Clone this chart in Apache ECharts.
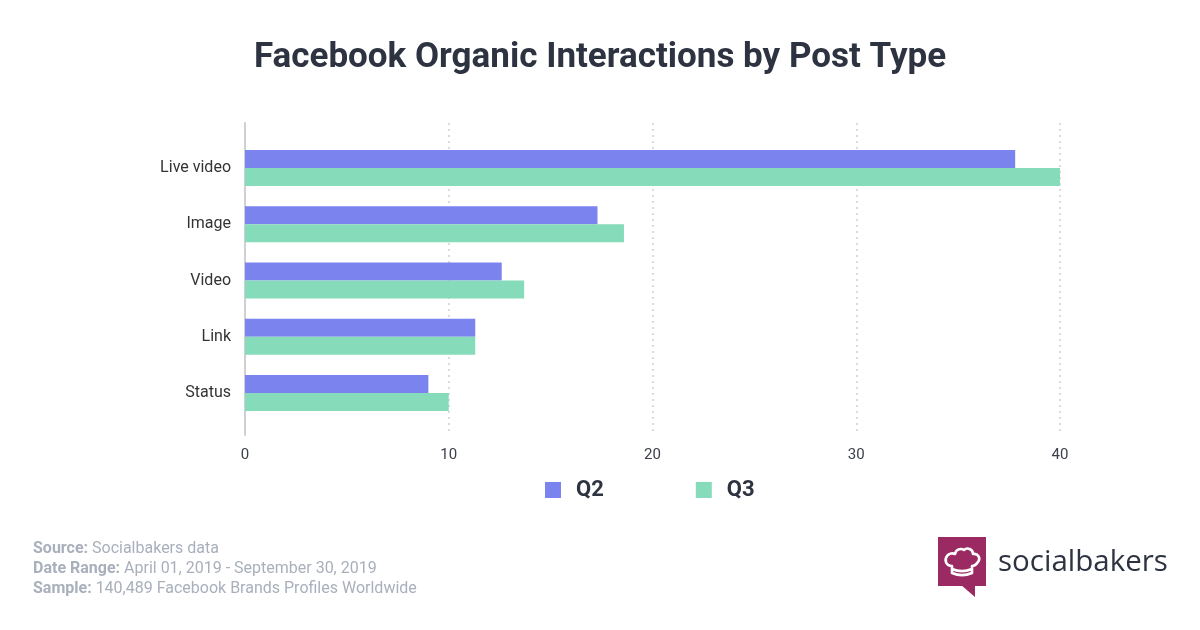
<!DOCTYPE html>
<html><head><meta charset="utf-8">
<script src="https://cdn.jsdelivr.net/npm/echarts@6/dist/echarts.min.js"></script>
<style>html,body{margin:0;padding:0;background:#fff}#c{width:1200px;height:630px}</style>
</head><body><div id="c"></div>
<script>
const categories = ["Live video", "Image", "Video", "Link", "Status"];
const q2Values = [37.8, 17.3, 12.6, 11.3, 9.0];
const q3Values = [40.0, 18.6, 13.7, 11.3, 10.0];
const xTicks = [0, 10, 20, 30, 40];
const seriesNames = ["Q2", "Q3"];

const dark = "#2d3340";
const hatSvg = '<svg xmlns="http://www.w3.org/2000/svg" width="50" height="50" viewBox="0 0 50 50">' +
  '<path d="M15 36 L15 29 C9 29 7 23 10 19 C12 16 16 16 18 17 C19 12 24 11 27 13 C30 10 36 12 36 17 C41 16 44 21 41 25 C39 28 36 29 35 29 L35 36 C28 39 22 39 15 36 Z M15 32 C22 35 28 35 35 32" fill="none" stroke="#fff" stroke-width="2.6" stroke-linejoin="round" stroke-linecap="round"/></svg>';
const hatUri = 'data:image/svg+xml;charset=utf-8,' + encodeURIComponent(hatSvg);

const chart = echarts.init(document.getElementById('c'), null, {renderer: 'canvas'});
chart.setOption({
  backgroundColor: '#fff',
  animation: false,
  title: {
    text: "Facebook Organic Interactions by Post Type",
    left: 'center', top: 36,
    textStyle: {fontFamily: 'Roboto', fontWeight: 'bold', fontSize: 35, color: dark}
  },
  legend: {
    data: seriesNames,
    left: 540, top: 474,
    itemWidth: 16, itemHeight: 16, itemGap: 92,
    icon: 'rect',
    textStyle: {fontFamily: 'Roboto', fontWeight: 'bold', fontSize: 22, color: dark, padding: [0, 0, 0, 10]}
  },
  grid: [
    {left: 245, right: 140, top: 140, bottom: 209},
    {left: 245, right: 140, top: 123, bottom: 195}
  ],
  xAxis: [
    {gridIndex: 0, type: 'value', min: 0, max: 40, interval: 10, show: false},
    {gridIndex: 1, type: 'value', min: xTicks[0], max: xTicks[xTicks.length-1], interval: 10,
     axisLine: {show: false}, axisTick: {show: false},
     axisLabel: {fontFamily: 'Roboto', fontSize: 15, color: '#3c4049', margin: 13},
     splitLine: {show: true, lineStyle: {color: '#cfcfd4', type: [2, 4], width: 1.5}}}
  ],
  yAxis: [
    {gridIndex: 0, type: 'category', data: categories, inverse: true,
     axisLine: {show: false}, axisTick: {show: false},
     axisLabel: {fontFamily: 'Roboto', fontSize: 16, color: '#333', margin: 14}},
    {gridIndex: 1, type: 'category', data: [''],
     axisLine: {show: true, lineStyle: {color: '#cfcfd6', width: 2}}, axisTick: {show: false}, axisLabel: {show: false}}
  ],
  series: [
    {name: seriesNames[0], type: 'bar', xAxisIndex: 0, yAxisIndex: 0, data: q2Values,
     barWidth: 18, barGap: '0%', itemStyle: {color: '#7b83ef'}},
    {name: seriesNames[1], type: 'bar', xAxisIndex: 0, yAxisIndex: 0, data: q3Values,
     barWidth: 18, barGap: '0%', itemStyle: {color: '#86dbbb'}}
  ],
  graphic: [
    {type: 'text', left: 33, top: 539, style: {
      text: '{b|Source:} Socialbakers data\n{b|Date Range:} April 01, 2019 - September 30, 2019\n{b|Sample:} 140,489 Facebook Brands Profiles Worldwide',
      fill: '#a9b0bc', font: '16px Roboto', lineHeight: 20,
      rich: {b: {fontWeight: 'bold', fill: '#a9b0bc', fontFamily: 'Roboto', fontSize: 16}}
    }},
    {type: 'rect', x: 938, y: 537, shape: {x: 0, y: 0, width: 48, height: 49}, style: {fill: '#9b2a63'}},
    {type: 'polygon', x: 938, y: 537, shape: {points: [[23, 48], [37, 48], [37, 60]]}, style: {fill: '#9b2a63'}},
    {type: 'image', x: 937, y: 537, style: {image: hatUri, x: 0, y: 0, width: 50, height: 50}},
    {type: 'text', x: 998, y: 548, style: {text: 'socialbakers', font: '29.5px "Open Sans"', fill: dark}}
  ]
});
</script></body></html>
